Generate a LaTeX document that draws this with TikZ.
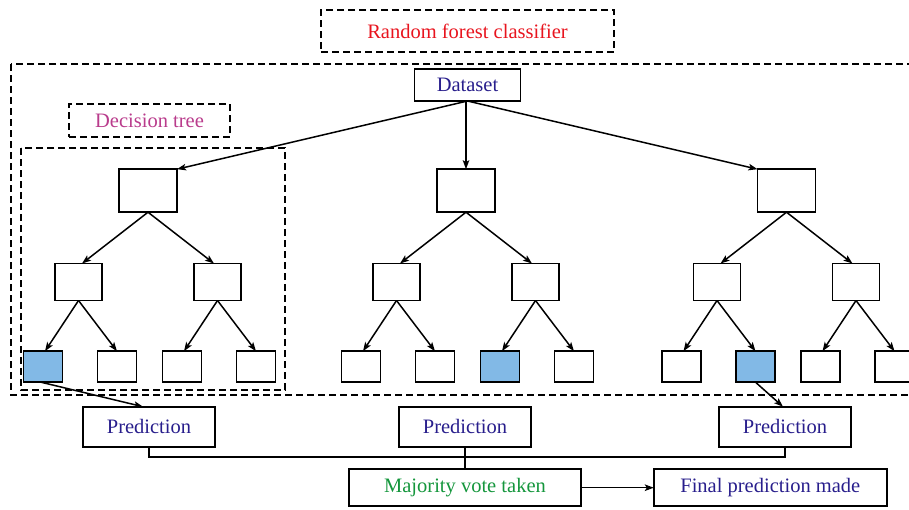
\documentclass[tikz,border=0pt]{standalone}
\usepackage{fontspec}
\setmainfont{Liberation Serif}
\usetikzlibrary{arrows.meta}
\definecolor{rfred}{RGB}{232,20,30}
\definecolor{dtmag}{RGB}{185,60,140}
\definecolor{txblue}{RGB}{40,30,140}
\definecolor{mvgreen}{RGB}{20,150,60}
\definecolor{leafblue}{RGB}{130,185,230}
\tikzset{
  box/.style={draw, line width=1.6pt, inner sep=0pt, outer sep=0pt},
  dbox/.style={draw, line width=1.5pt, dash pattern=on 7pt off 4pt, inner sep=0pt, outer sep=0pt},
  rootbox/.style={box, minimum width=58pt, minimum height=43pt},
  midbox/.style={box, minimum width=47pt, minimum height=37pt},
  leafbox/.style={box, minimum width=39pt, minimum height=31pt},
  predbox/.style={box, minimum width=132pt, minimum height=40pt, text=txblue},
  arr/.style={line width=1.5pt, -{Stealth[length=9pt,width=6.5pt,inset=2pt]}},
  ln/.style={line width=1.5pt},
  txt/.style={font=\fontsize{20.5}{24}\selectfont}
}
\newcommand{\mytree}[6]{%
  \node[rootbox] (#1r) at (#2,190.7) {};
  \node[midbox] (#1a) at ({#2-69.5},282) {};
  \node[midbox] (#1b) at ({#2+69.5},282) {};
  \node[leafbox,fill=#3] (#1a1) at ({#2-105},366.7) {};
  \node[leafbox,fill=#4] (#1a2) at ({#2-31},366.7) {};
  \node[leafbox,fill=#5] (#1b1) at ({#2+34},366.7) {};
  \node[leafbox,fill=#6] (#1b2) at ({#2+108},366.7) {};
  \draw[arr] (#1r.south) -- ([xshift=3.5pt]#1a.north);
  \draw[arr] (#1r.south) -- ([xshift=-3.5pt]#1b.north);
  \draw[arr] (#1a.south) -- ([xshift=2pt]#1a1.north);
  \draw[arr] (#1a.south) -- (#1a2.north);
  \draw[arr] (#1b.south) -- ([xshift=2pt]#1b1.north);
  \draw[arr] (#1b.south) -- (#1b2.north);
}
\begin{document}
\begin{tikzpicture}[x=1pt,y=-1pt]
\useasboundingbox (0,0) rectangle (909,509);
\clip (0,0) rectangle (909,509);
% title box
\node[dbox, txt, text=rfred, minimum width=293pt, minimum height=42pt] (rf) at (467.5,31) {Random forest classifier};
% outer dashed region
\draw[line width=1.5pt, dash pattern=on 7pt off 4pt] (11,64) rectangle (940,395);
% dataset
\node[box, txt, text=txblue, minimum width=106pt, minimum height=32pt] (ds) at (467.5,85) {Dataset};
% decision tree label
\node[dbox, txt, text=dtmag, minimum width=161pt, minimum height=33pt] (dt) at (149.5,120.5) {Decision tree};
% inner dashed tree region
\draw[line width=1.5pt, dash pattern=on 7pt off 4pt] (21,148) rectangle (285,390);
% trees
\mytree{L}{148}{leafblue}{white}{white}{white}
\mytree{M}{466}{white}{white}{leafblue}{white}
\mytree{R}{786.5}{white}{leafblue}{white}{white}
% dataset arrows
\draw[arr] (ds.south) -- (Lr.north east);
\draw[arr] (Mr.north |- ds.south) -- (Mr.north);
\draw[arr] (ds.south) -- (Rr.north west);
% predictions
\node[predbox, txt] (p1) at (149,426.7) {Prediction};
\node[predbox, txt] (p2) at (465,426.7) {Prediction};
\node[predbox, txt] (p3) at (785,426.7) {Prediction};
\draw[arr] ([xshift=-2pt]La1.south) -- ([xshift=-6pt]p1.north);
\draw[arr] (Ra2.south) -- ([xshift=-2pt]p3.north);
% majority vote and final
\node[box, txt, text=mvgreen, minimum width=232pt, minimum height=37pt] (mv) at (465,487.7) {Majority vote taken};
\node[box, txt, text=txblue, minimum width=233pt, minimum height=37pt] (fp) at (770.3,487.7) {Final prediction made};
\coordinate (bus) at (0,457);
\draw[ln] (p1.south) -- (p1.south |- bus) -- (p3.south |- bus) -- (p3.south);
\draw[ln] (p2.south) -- (mv.north);
\draw[arr] (mv.east) -- (fp.west);
\end{tikzpicture}
\end{document}
